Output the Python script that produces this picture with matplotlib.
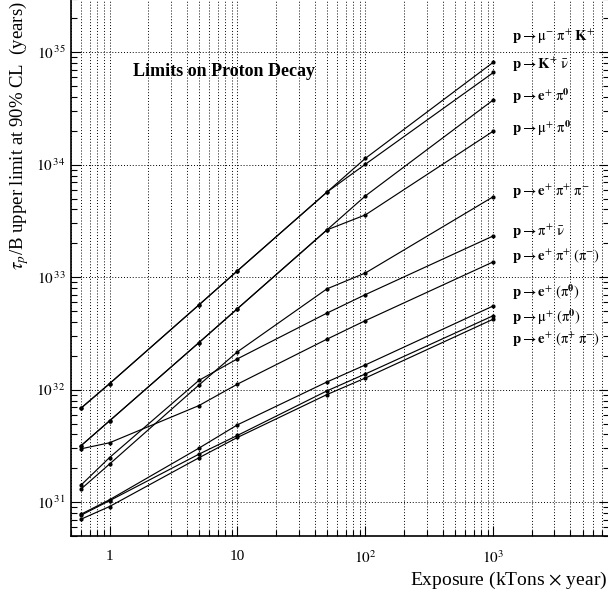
import numpy as np
import matplotlib
matplotlib.use('Agg')
import matplotlib.pyplot as plt
from matplotlib.ticker import LogLocator, FixedLocator, NullFormatter, FixedFormatter

plt.rcParams['font.family'] = ['Liberation Serif', 'DejaVu Serif']
plt.rcParams['mathtext.fontset'] = 'stix'

# exposure in kTons x year
exposure = [0.6, 1, 5, 10, 50, 100, 1000]

# tau/B limits (years)
mu_pi_K = [6.86e31, 1.13e32, 5.67e32, 1.14e33, 5.7e33, 1.14e34, 8.15e34]
K_nubar = [6.86e31, 1.13e32, 5.67e32, 1.14e33, 5.7e33, 1.01e34, 6.6e34]
e_pi0 = [3.18e31, 5.28e31, 2.62e32, 5.25e32, 2.63e33, 5.28e33, 3.77e34]
mu_pi0 = [3.18e31, 5.28e31, 2.62e32, 5.25e32, 2.63e33, 3.58e33, 1.99e34]
e_pipi = [1.31e31, 2.18e31, 1.10e32, 2.17e32, 7.87e32, 1.09e33, 5.2e33]
pi_nubar = [1.42e31, 2.49e31, 1.21e32, 1.88e32, 4.79e32, 7.0e32, 2.33e33]
e_pi_xpi = [2.98e31, 3.37e31, 7.22e31, 1.12e32, 2.81e32, 4.11e32, 1.37e33]
e_xpi0 = [7.82e30, 1.05e31, 3.02e31, 4.87e31, 1.17e32, 1.66e32, 5.56e32]
mu_xpi0 = [7.66e30, 1.03e31, 2.67e31, 3.92e31, 9.75e31, 1.38e32, 4.55e32]
e_xpipi = [7.06e30, 9.14e30, 2.48e31, 3.76e31, 9.04e31, 1.27e32, 4.24e32]

series = [mu_pi_K, K_nubar, e_pi0, mu_pi0, e_pipi,
          pi_nubar, e_pi_xpi, e_xpi0, mu_xpi0, e_xpipi]

labels = [
    r'$\mathbf{p}\rightarrow\mathrm{\mu}^{-}\;\mathrm{\pi}^{+}\;\mathbf{K}^{+}$',
    r'$\mathbf{p}\rightarrow\mathbf{K}^{+}\;\bar{\mathrm{\nu}}$',
    r'$\mathbf{p}\rightarrow\mathbf{e}^{+}\;\mathrm{\pi}^{\mathbf{0}}$',
    r'$\mathbf{p}\rightarrow\mathrm{\mu}^{+}\;\mathrm{\pi}^{\mathbf{0}}$',
    r'$\mathbf{p}\rightarrow\mathbf{e}^{+}\;\mathrm{\pi}^{+}\;\mathrm{\pi}^{-}$',
    r'$\mathbf{p}\rightarrow\mathrm{\pi}^{+}\;\bar{\mathrm{\nu}}$',
    r'$\mathbf{p}\rightarrow\mathbf{e}^{+}\;\mathrm{\pi}^{+}\;(\mathrm{\pi}^{-})$',
    r'$\mathbf{p}\rightarrow\mathbf{e}^{+}\;(\mathrm{\pi}^{\mathbf{0}})$',
    r'$\mathbf{p}\rightarrow\mathrm{\mu}^{+}\;(\mathrm{\pi}^{\mathbf{0}})$',
    r'$\mathbf{p}\rightarrow\mathbf{e}^{+}\;(\mathrm{\pi}^{+}\;\mathrm{\pi}^{-})$',
]
# label heights in pixels from the top of the picture
label_y = [37, 65, 96, 128, 192, 232, 257, 292, 317, 340]

W, H = 608, 596
fig = plt.figure(figsize=(W / 100, H / 100), dpi=100)
ax = fig.add_axes([71 / W, (H - 536) / H, (609 - 71) / W, (536 + 1.5) / H])

for ys in series:
    ax.plot(exposure, ys, color='black', linewidth=0.85, marker='o', markersize=2.0)

ax.set_xscale('log')
ax.set_yscale('log')
ax.set_xlim(0.5, 8000)
ax.set_ylim(5e30, 3e35)

ax.xaxis.set_major_locator(FixedLocator([1, 10, 100, 1000]))
ax.xaxis.set_major_formatter(FixedFormatter(['1', '10', r'$10^{2}$', r'$10^{3}$']))
ax.xaxis.set_minor_locator(LogLocator(base=10, subs=np.arange(2, 10)))
ax.xaxis.set_minor_formatter(NullFormatter())
ax.yaxis.set_major_locator(FixedLocator([1e31, 1e32, 1e33, 1e34, 1e35]))
ax.yaxis.set_major_formatter(FixedFormatter([r'$10^{\,31}$', r'$10^{\,32}$', r'$10^{\,33}$',
                                             r'$10^{\,34}$', r'$10^{\,35}$']))
ax.yaxis.set_minor_locator(LogLocator(base=10, subs=np.arange(2, 10)))
ax.yaxis.set_minor_formatter(NullFormatter())

ax.tick_params(which='both', direction='in', top=False, right=True, labelsize=11)
ax.tick_params(axis='x', which='major', pad=10)
ax.tick_params(axis='y', which='major', pad=4)
ax.tick_params(which='major', length=7, width=0.8)
ax.tick_params(which='minor', length=4.3, width=0.8)

ax.grid(True, which='major', axis='both', color='black', linestyle=(0, (1, 2)), linewidth=0.7)
ax.grid(True, which='minor', axis='x', color='black', linestyle=(0, (1, 2)), linewidth=0.7)

for s in ax.spines.values():
    s.set_linewidth(1.2)

for lab, y in zip(labels, label_y):
    fig.text(512 / W, 1 - y / H, lab, fontsize=10.5, ha='left', va='center')

fig.text(133 / W, 1 - 72 / H, 'Limits on Proton Decay', fontsize=13,
         fontweight='bold', ha='left', va='center')
fig.text(19 / W, 1 - 1 / H, r'$\tau_{p}$/B upper limit at 90% CL  (years)',
         fontsize=13.5, rotation=90, ha='center', va='top')
fig.text(607 / W, 1 - 580 / H, r'Exposure (kTons $\times$ year)', fontsize=14,
         ha='right', va='center')

fig.savefig('out.png', dpi=100, facecolor='white')
